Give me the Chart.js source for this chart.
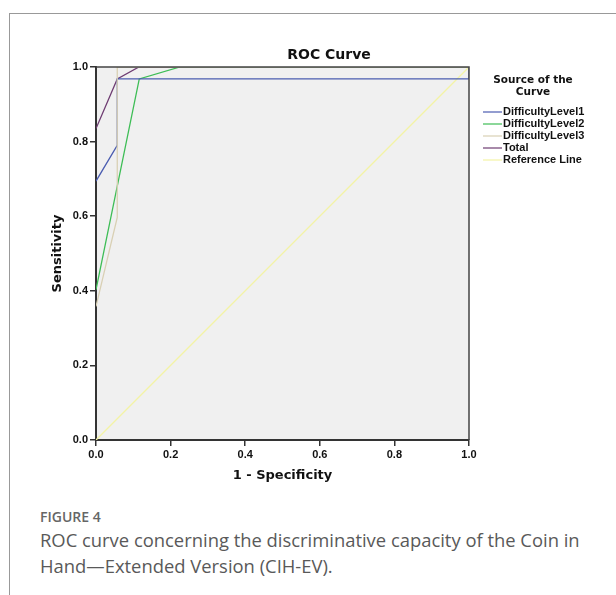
<!DOCTYPE html>
<html>
<head>
<meta charset="utf-8">
<script src="https://cdn.jsdelivr.net/npm/chart.js@4"></script>
<style>
  body { margin: 0; background: #fff; }
  #wrap { position: absolute; left: 0; top: 0; width: 616px; height: 500px; }
  #frame { position: absolute; left: 9px; top: 13px; width: 620px; height: 600px;
           border-left: 1px solid #999; border-top: 1px solid #999; }
  #figlabel { position: absolute; left: 40px; top: 507px; font-family: "Open Sans", sans-serif;
              font-size: 14px; font-weight: 600; color: #666; }
  #caption { position: absolute; left: 40px; top: 527px; width: 570px; font-family: "Open Sans", sans-serif;
             font-size: 18.4px; line-height: 26px; color: #595959; }
</style>
</head>
<body>
<div id="frame"></div>
<div id="wrap"><canvas id="rocChart" width="616" height="500"></canvas></div>
<div id="figlabel">FIGURE 4</div>
<div id="caption">ROC curve concerning the discriminative capacity of the Coin in Hand—Extended Version (CIH-EV).</div>
<script>
// Data
var seriesNames = ['DifficultyLevel1', 'DifficultyLevel2', 'DifficultyLevel3', 'Total', 'Reference Line'];
var seriesColors = ['#4a5cb0', '#3dbd55', '#d9d0b4', '#6e3c72', '#f3f3a6'];

var fpr1 = [0, 0.057, 0.057, 1, 1];
var tpr1 = [0.694, 0.79, 0.968, 0.968, 1];
var fpr2 = [0, 0.116, 0.225, 1];
var tpr2 = [0.403, 0.968, 1, 1];
var fpr3 = [0, 0.057, 0.057, 1];
var tpr3 = [0.358, 0.597, 1, 1];
var fprTotal = [0, 0.057, 0.115, 1];
var tprTotal = [0.835, 0.968, 1, 1];
var fprRef = [0, 1];
var tprRef = [0, 1];

var tickValues = [0, 0.2, 0.4, 0.6, 0.8, 1.0];

function toPoints(xs, ys) {
    return xs.map(function(x, i) { return {x: x, y: ys[i]}; });
}

var allX = [fpr1, fpr2, fpr3, fprTotal, fprRef];
var allY = [tpr1, tpr2, tpr3, tprTotal, tprRef];
var drawOrder = [2, 3, 1, 4, 5];

var fontFam = '"DejaVu Sans", sans-serif';
var smallFam = '"Liberation Sans", Arial, sans-serif';

var plotBox = {
    id: 'plotBox',
    beforeDraw: function(chart) {
        var a = chart.chartArea, c = chart.ctx;
        c.save();
        c.fillStyle = '#f0f0f0';
        c.fillRect(a.left, a.top, a.right - a.left, a.bottom - a.top);
        c.restore();
    },
    afterDraw: function(chart) {
        var a = chart.chartArea, c = chart.ctx;
        c.save();
        // top and right frame
        c.strokeStyle = '#444';
        c.lineWidth = 1.5;
        c.beginPath();
        c.moveTo(a.left, a.top);
        c.lineTo(a.right, a.top);
        c.lineTo(a.right, a.bottom);
        c.stroke();

        // title
        c.fillStyle = '#111';
        c.textAlign = 'center';
        c.textBaseline = 'middle';
        c.font = 'bold 14px ' + fontFam;
        c.fillText('ROC Curve', 329, 55);

        // legend
        c.font = 'bold 10.5px ' + fontFam;
        c.fillText('Source of the', 533, 80);
        c.fillText('Curve', 533, 92);
        c.textAlign = 'left';
        c.font = 'bold 11px ' + smallFam;
        seriesNames.forEach(function(name, i) {
            var y = 112 + i * 12;
            c.strokeStyle = seriesColors[i];
            c.lineWidth = 1.2;
            c.beginPath();
            c.moveTo(483, y);
            c.lineTo(502, y);
            c.stroke();
            c.fillStyle = '#111';
            c.fillText(name, 503, y);
        });
        c.restore();
    }
};

var ctx = document.getElementById('rocChart').getContext('2d');
var rocChart = new Chart(ctx, {
    type: 'scatter',
    data: {
        datasets: seriesNames.map(function(name, i) {
            return {
                label: name,
                data: toPoints(allX[i], allY[i]),
                showLine: true,
                borderColor: seriesColors[i],
                backgroundColor: seriesColors[i],
                borderWidth: 1.3,
                pointRadius: 0,
                order: drawOrder[i]
            };
        })
    },
    options: {
        responsive: false,
        animation: false,
        layout: { padding: { left: 36, right: 147, top: 67, bottom: 10 } },
        plugins: {
            legend: { display: false },
            tooltip: { enabled: false }
        },
        scales: {
            x: {
                type: 'linear',
                min: 0,
                max: 1,
                afterFit: function(s) { s.height = 50; },
                afterBuildTicks: function(s) { s.ticks = tickValues.map(function(v) { return {value: v}; }); },
                border: { color: '#333', width: 2 },
                grid: { drawOnChartArea: false, drawTicks: true, tickLength: 6, color: '#333', lineWidth: 1.5 },
                ticks: {
                    padding: 2,
                    color: '#111',
                    font: { family: smallFam, size: 11, weight: 'bold' },
                    callback: function(value) { return value.toFixed(1); }
                },
                title: {
                    display: true,
                    text: '1 - Specificity',
                    color: '#111',
                    font: { family: fontFam, size: 13, weight: 'bold' },
                    padding: { top: 0, bottom: 7 }
                }
            },
            y: {
                type: 'linear',
                min: 0,
                max: 1,
                afterFit: function(s) { s.width = 60; },
                afterBuildTicks: function(s) { s.ticks = tickValues.map(function(v) { return {value: v}; }); },
                border: { color: '#333', width: 2 },
                grid: { drawOnChartArea: false, drawTicks: true, tickLength: 6, color: '#333', lineWidth: 1.5 },
                ticks: {
                    padding: 2,
                    color: '#111',
                    font: { family: smallFam, size: 11, weight: 'bold' },
                    callback: function(value) { return value.toFixed(1); }
                },
                title: {
                    display: true,
                    text: 'Sensitivity',
                    color: '#111',
                    font: { family: fontFam, size: 13, weight: 'bold' },
                    padding: { top: 14, bottom: 0 }
                }
            }
        }
    },
    plugins: [plotBox]
});
</script>
</body>
</html>
